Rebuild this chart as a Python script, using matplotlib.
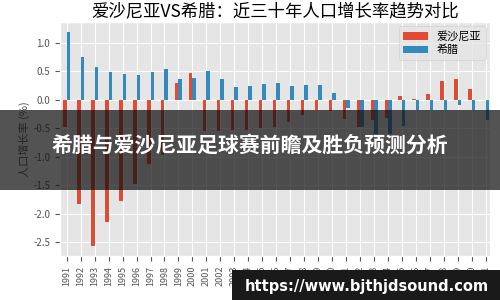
import numpy as np
import matplotlib
matplotlib.use('Agg')
import matplotlib.pyplot as plt
from matplotlib.patches import Rectangle

plt.style.use('ggplot')
plt.rcParams['font.family'] = ['Noto Sans CJK SC', 'DejaVu Sans']
plt.rcParams['axes.unicode_minus'] = False

# data
years = [str(y) for y in range(1991, 2022)]
estonia = [-0.48, -1.82, -2.57, -2.14, -1.78, -1.47, -1.13, -0.96, 0.29, 0.48,
           -0.55, -0.55, -0.53, -0.52, -0.50, -0.47, -0.38, -0.27, -0.18, -0.20,
           -0.33, -0.47, -0.35, -0.32, 0.06, 0.02, 0.11, 0.34, 0.36, 0.19, -0.01]
greece = [1.20, 0.75, 0.58, 0.49, 0.46, 0.43, 0.49, 0.55, 0.37, 0.39,
          0.51, 0.36, 0.23, 0.24, 0.28, 0.29, 0.25, 0.26, 0.26, 0.12,
          -0.15, -0.48, -0.60, -0.60, -0.45, -0.18, -0.18, -0.18, -0.09, -0.18, -0.35]
labels = ['爱沙尼亚', '希腊']
yticks = [1.0, 0.5, 0.0, -0.5, -1.0, -1.5, -2.0, -2.5]

fig = plt.figure(figsize=(5, 3), dpi=100)
ax = fig.add_axes([0.12, 0.147, 0.86, 0.78])

x = np.arange(len(years))
w = 0.25
ax.bar(x - w/2, estonia, w, color='#E24A33', label=labels[0])
ax.bar(x + w/2, greece, w, color='#348ABD', label=labels[1])

ax.set_xticks(x)
ax.set_xticklabels(years, rotation=90, fontsize=6.5)
ax.set_yticks(yticks)
ax.set_yticklabels(['%.1f' % v for v in yticks], fontsize=7)
ax.set_xlim(-0.48, 30.3)
ax.set_ylim(-2.74, 1.37)
ax.set_ylabel('人口增长率 (%)', fontsize=8, labelpad=2)
ax.set_title('爱沙尼亚VS希腊：近三十年人口增长率趋势对比', fontsize=12.5, pad=4)
ax.legend(loc='upper right', fontsize=8, handlelength=2.2, labelspacing=0.3,
          borderaxespad=0.4)

# overlay banner
fig.patches.append(Rectangle((0, 110/300), 1, 80/300, transform=fig.transFigure,
                             facecolor='#111111', alpha=0.72, zorder=10))
fig.text(0.5, 1 - 145/300, '希腊与爱沙尼亚足球赛前瞻及胜负预测分析', color='white',
         fontsize=15, fontweight='bold', ha='center', va='center', zorder=11)

# watermark
fig.patches.append(Rectangle((232/500, 0), 1 - 232/500, 30/300, transform=fig.transFigure,
                             facecolor='#1a1a1a', zorder=10))
fig.text(367/500, 13/300, 'https://www.bjthjdsound.com', color='white',
         fontsize=10.5, fontweight='bold', ha='center', va='center',
         family='DejaVu Sans', zorder=11)

fig.savefig('out.png', dpi=100)
